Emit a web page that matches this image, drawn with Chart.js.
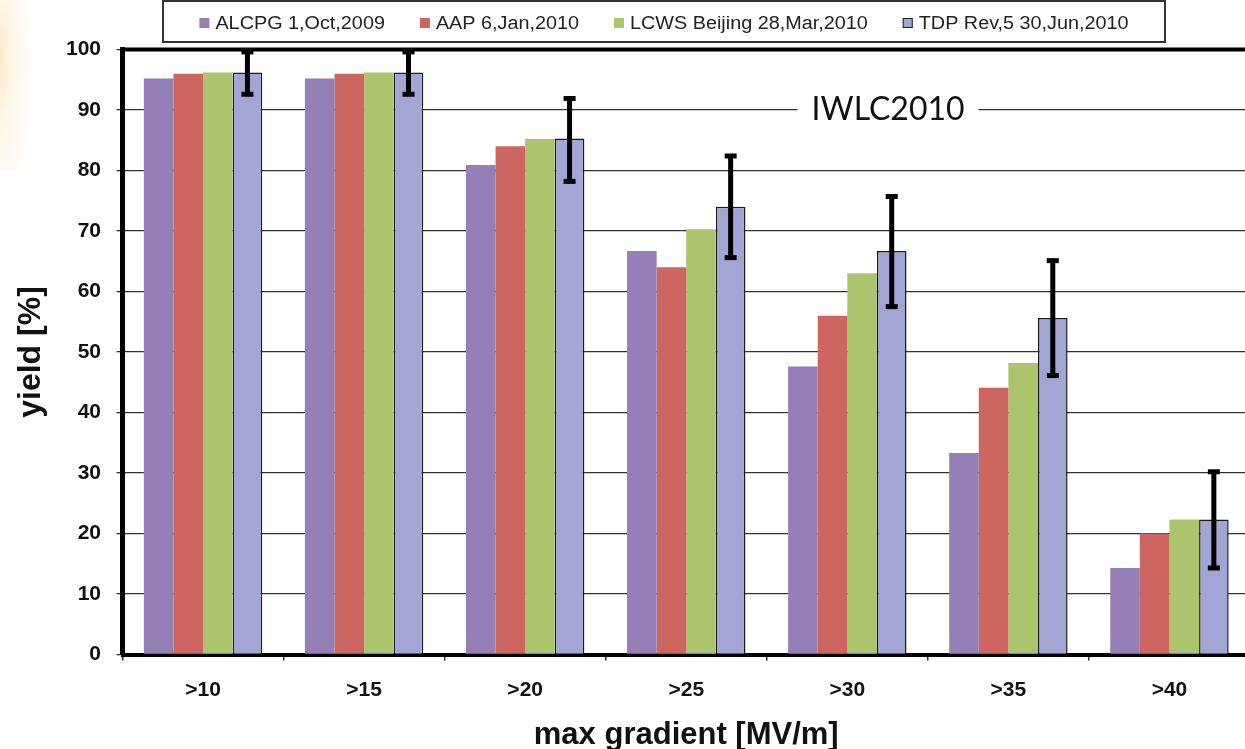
<!DOCTYPE html>
<html>
<head>
<meta charset="utf-8">
<script src="https://cdn.jsdelivr.net/npm/chart.js@4/dist/chart.umd.min.js"></script>
<style>
html,body{margin:0;padding:0;background:#fff;overflow:hidden;width:1245px;height:749px;}
#wrap{position:absolute;left:0;top:0;width:1256px;height:749px;}
#glow{position:absolute;left:0;top:0;width:34px;height:170px;pointer-events:none;
 background:radial-gradient(ellipse 34px 170px at 0% 35%, rgba(251,232,196,0.85) 0%, rgba(253,240,218,0.5) 45%, rgba(255,255,255,0) 100%);}
</style>
</head>
<body>
<div id="wrap"><canvas id="c" width="1256" height="749"></canvas></div>
<div id="glow"></div>
<script>
// ---- data ----
const categories = ['>10', '>15', '>20', '>25', '>30', '>35', '>40'];
const seriesLabels = ['ALCPG 1,Oct,2009', 'AAP 6,Jan,2010', 'LCWS Beijing 28,Mar,2010', 'TDP Rev,5 30,Jun,2010'];
const alcpg = [95.2, 95.2, 80.9, 66.7, 47.6, 33.3, 14.3];
const aap   = [96.0, 96.0, 84.0, 64.0, 56.0, 44.1, 20.0];
const lcws  = [96.2, 96.2, 85.2, 70.3, 63.0, 48.2, 22.3];
const tdp   = [96.2, 96.2, 85.3, 74.0, 66.7, 55.6, 22.3];
const tdpErrLow  = [92.6, 92.6, 78.2, 65.6, 57.5, 46.1, 14.3];
const tdpErrHigh = [99.6, 99.6, 91.9, 82.4, 75.7, 65.1, 30.2];
const yMin = 0, yMax = 100, yStep = 10;
const xTitle = 'max gradient [MV/m]';
const yTitle = 'yield [%]';
const annotationText = 'IWLC2010';
const annotationValue = 90;

// ---- styles ----
const colors = ['#9480B6', '#CD6660', '#ACC46C', '#A3A5D4'];
const FONT = "'Liberation Sans', Arial, sans-serif";
Chart.defaults.font.family = FONT;

const errorBarPlugin = {
  id: 'errorBars',
  afterDatasetsDraw(chart) {
    const ctx = chart.ctx, ys = chart.scales.y;
    const meta = chart.getDatasetMeta(3);
    ctx.save();
    ctx.fillStyle = '#000';
    ctx.strokeStyle = '#000';
    meta.data.forEach((bar, i) => {
      const x = bar.x;
      const yh = ys.getPixelForValue(tdpErrHigh[i]);
      const yl = ys.getPixelForValue(tdpErrLow[i]);
      ctx.lineWidth = 5;
      ctx.beginPath(); ctx.moveTo(x, yh); ctx.lineTo(x, yl); ctx.stroke();
      ctx.fillRect(x - 6, yh - 2.5, 12, 5);
      ctx.fillRect(x - 6, yl - 2.5, 12, 5);
    });
    ctx.restore();
  }
};

const framePlugin = {
  id: 'frame',
  afterDatasetsDraw(chart) {
    const ctx = chart.ctx, a = chart.chartArea;
    ctx.save();
    ctx.strokeStyle = '#000';
    ctx.lineWidth = 4;
    ctx.beginPath(); ctx.moveTo(a.left - 2.5, a.top); ctx.lineTo(a.right + 10, a.top); ctx.stroke();
    ctx.restore();
  }
};

const annotationPlugin = {
  id: 'annot',
  afterDraw(chart) {
    const ctx = chart.ctx, a = chart.chartArea;
    const y = chart.scales.y.getPixelForValue(annotationValue);
    const x = a.left + (a.right - a.left) * 0.679;
    ctx.save();
    ctx.font = "32px Lato, 'Open Sans', sans-serif";
    const w = ctx.measureText(annotationText).width;
    ctx.fillStyle = '#fff';
    ctx.fillRect(x - w / 2 - 14, y - 3, w + 28, 6);
    ctx.fillStyle = '#111';
    ctx.textAlign = 'center';
    ctx.textBaseline = 'middle';
    ctx.fillText(annotationText, x, y);
    ctx.restore();
  }
};

const legendPlugin = {
  id: 'boxLegend',
  afterDraw(chart) {
    const ctx = chart.ctx;
    const boxL = 163, boxR = 1165, boxT = 1, boxB = 42;
    const sx = 1.1, marker = 10, mgap = 6, gap = 35, cy = 23;
    ctx.save();
    ctx.fillStyle = '#fff';
    ctx.fillRect(boxL, boxT, boxR - boxL, boxB - boxT);
    ctx.strokeStyle = '#333';
    ctx.lineWidth = 2;
    ctx.strokeRect(boxL, boxT, boxR - boxL, boxB - boxT);
    ctx.font = '18px ' + FONT;
    const ds = chart.data.datasets;
    const widths = ds.map(d => ctx.measureText(d.label).width * sx);
    const total = widths.reduce((s, w) => s + w + marker + mgap, 0) + gap * (ds.length - 1);
    let x = (boxL + boxR) / 2 - total / 2;
    ds.forEach((d, i) => {
      ctx.fillStyle = d.backgroundColor;
      ctx.fillRect(x, cy - marker / 2, marker, marker);
      if (d.borderWidth) {
        ctx.strokeStyle = '#222'; ctx.lineWidth = 1;
        ctx.strokeRect(x + 0.5, cy - marker / 2 + 0.5, marker - 1, marker - 1);
      }
      const tx = x + marker + mgap;
      ctx.save();
      ctx.translate(tx, cy);
      ctx.scale(sx, 1);
      ctx.fillStyle = '#222';
      ctx.textBaseline = 'middle';
      ctx.textAlign = 'left';
      ctx.fillText(d.label, 0, 1);
      ctx.restore();
      x = tx + widths[i] + gap;
    });
    ctx.restore();
  }
};

new Chart(document.getElementById('c'), {
  type: 'bar',
  data: {
    labels: categories,
    datasets: [
      { label: seriesLabels[0], data: alcpg, backgroundColor: colors[0], borderWidth: 0 },
      { label: seriesLabels[1], data: aap,   backgroundColor: colors[1], borderWidth: 0 },
      { label: seriesLabels[2], data: lcws,  backgroundColor: colors[2], borderWidth: 0 },
      { label: seriesLabels[3], data: tdp,   backgroundColor: colors[3], borderColor: '#1a1a1a', borderWidth: 1.5 }
    ]
  },
  options: {
    responsive: false,
    animation: false,
    layout: { padding: { left: 0, right: 6, top: 49.5, bottom: 0 } },
    datasets: { bar: { categoryPercentage: 0.735, barPercentage: 1.0 } },
    plugins: { legend: { display: false }, tooltip: { enabled: false } },
    scales: {
      x: {
        grid: { display: true, drawOnChartArea: false, drawTicks: true, tickLength: 6, offset: true, color: '#333', lineWidth: 1.5 },
        border: { display: true, color: '#000', width: 4 },
        ticks: { font: { size: 21, weight: 'bold' }, color: '#111', padding: 17 },
        title: { display: true, text: xTitle, color: '#111', font: { size: 31, weight: 'bold', lineHeight: 0.85 }, padding: 0 },
        afterFit(s) { s.height = 94.5; }
      },
      y: {
        min: yMin, max: yMax,
        ticks: { stepSize: yStep, font: { size: 21, weight: 'bold' }, color: '#111', padding: 15.5 },
        grid: { color: '#333', lineWidth: 1.3, tickLength: 6 },
        border: { display: true, color: '#000', width: 5 },
        title: { display: true, text: yTitle, color: '#111', font: { size: 32, weight: 'bold', lineHeight: 1 }, padding: { top: 15, bottom: 0 } },
        afterFit(s) { s.width = 122.5; }
      }
    }
  },
  plugins: [framePlugin, errorBarPlugin, annotationPlugin, legendPlugin]
});
</script>
</body>
</html>
